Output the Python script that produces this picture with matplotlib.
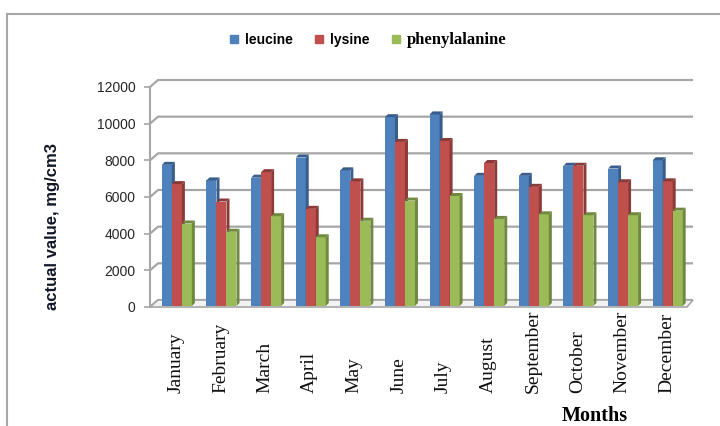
import matplotlib.pyplot as plt
from matplotlib.patches import Polygon
from matplotlib.lines import Line2D

months = ['January', 'February', 'March', 'April', 'May', 'June', 'July',
          'August', 'September', 'October', 'November', 'December']
leucine = [7700, 6850, 7000, 8100, 7400, 10300, 10450, 7100, 7100, 7650, 7500, 7950]
lysine = [6650, 5700, 7300, 5300, 6800, 8950, 9000, 7800, 6500, 7650, 6750, 6800]
phenylalanine = [4500, 4050, 4900, 3750, 4650, 5750, 6000, 4750, 5000, 4950, 4950, 5200]
yticks = [0, 2000, 4000, 6000, 8000, 10000, 12000]

# (name, values, front colour, side/top colour)
series = [
    ('leucine', leucine, '#4F81BD', '#385D8A'),
    ('lysine', lysine, '#C0504D', '#8C3A38'),
    ('phenylalanine', phenylalanine, '#9BBB59', '#71893F'),
]

W, H = 720, 426
fig = plt.figure(figsize=(W / 100, H / 100), dpi=100)
fig.patch.set_facecolor('white')

# outer chart frame
fig.add_artist(Line2D([7 / W, 1.0], [1 - 14 / H, 1 - 14 / H], color='#A6A6A6', lw=1.5))
fig.add_artist(Line2D([7 / W, 7 / W], [0, 1 - 14 / H], color='#A6A6A6', lw=1.5))

# front plane of the pseudo-3D plot, in pixels
left, right, bottom, top = 150, 689, 307, 87
ax = fig.add_axes([left / W, 1 - bottom / H, (right - left) / W, (bottom - top) / H])
xmin, xmax = -0.58, 11.5
ymax = 12000
ax.set_xlim(xmin, xmax)
ax.set_ylim(0, ymax)
ax.patch.set_visible(False)

kx = (right - left) / (xmax - xmin)
ky = (bottom - top) / ymax


def px(dx, dy):
    # pixel offset -> data offset
    return dx / kx, dy / ky


# back wall gridlines and the side-wall diagonals
wx, wy = px(8, 7)
rx, _ = px(4, 0)
for v in yticks:
    ax.plot([xmin, xmin + wx, xmax + rx], [v, v + wy, v + wy],
            color='#A6A6A6', lw=1.6, clip_on=False, zorder=1, solid_capstyle='butt')

# floor slab
floor = Polygon([(xmin, 0), (xmax - rx * 0.5, 0), (xmax + rx, wy), (xmin + wx, wy)],
                closed=True, facecolor='#F2F2F2', edgecolor='#A6A6A6', lw=1.2,
                clip_on=False, zorder=2)
ax.add_patch(floor)

# bars: front face + right side + top
w = 10 / kx
bx, by = px(1, 1)
dx, dy = px(3, 3)
z = 3
for j, (name, vals, c_front, c_side) in enumerate(series):
    lefts = [i + (j - 1.5) * w + bx for i in range(len(months))]
    ax.bar(lefts, vals, width=w, align='edge', bottom=by, color=c_front,
           edgecolor='none', zorder=z, clip_on=False)
    for xl, v in zip(lefts, vals):
        xr = xl + w
        ytop = by + v
        side = Polygon([(xr, by), (xr + dx, by + dy), (xr + dx, ytop + dy), (xr, ytop)],
                       closed=True, facecolor=c_side, edgecolor='none', zorder=z,
                       clip_on=False)
        cap = Polygon([(xl, ytop), (xl + dx, ytop + dy), (xr + dx, ytop + dy), (xr, ytop)],
                      closed=True, facecolor=c_side, edgecolor='none', zorder=z,
                      clip_on=False)
        ax.add_patch(side)
        ax.add_patch(cap)
    z += 1
    ax.plot([], [], 's', color=c_front, markersize=6, label=name)

# axes styling
for s in ['top', 'right', 'bottom']:
    ax.spines[s].set_visible(False)
ax.spines['left'].set_color('#A6A6A6')
ax.spines['left'].set_linewidth(1.5)
ax.set_yticks(yticks)
ax.set_yticklabels([str(v) for v in yticks], fontfamily='Liberation Sans',
                   fontsize=10, color='#262626')
ax.tick_params(axis='y', length=4.5, width=1.2, color='#A6A6A6', pad=6)

ax.set_xticks(range(len(months)))
ax.set_xticklabels(months, rotation=90, va='bottom', ha='center',
                   fontfamily='Liberation Serif', fontsize=14, color='#101010')
ax.tick_params(axis='x', length=0, pad=62)

ax.set_ylabel('actual value, mg/cm3', fontfamily='Liberation Sans', fontweight='bold',
              fontsize=12, color='#101828', va='center')
ax.yaxis.set_label_coords((53 - left) / (right - left), (bottom - 227) / (bottom - top))
ax.set_xlabel('Months', fontfamily='Liberation Serif', fontweight='bold', fontsize=14.5)
ax.xaxis.set_label_coords((595 - left) / (right - left), (bottom - 416) / (bottom - top))
ax.xaxis.label.set_va('center')

leg = fig.legend(loc='center', bbox_to_anchor=(368 / W, 1 - 40 / H), ncol=3,
                 frameon=False, handlelength=0.6, handletextpad=0.5,
                 columnspacing=1.6, prop={'family': 'Liberation Sans',
                                          'weight': 'bold', 'size': 10})
leg.get_texts()[2].set_fontfamily('Liberation Serif')
leg.get_texts()[2].set_fontsize(12)

fig.savefig('out.png', dpi=100)
